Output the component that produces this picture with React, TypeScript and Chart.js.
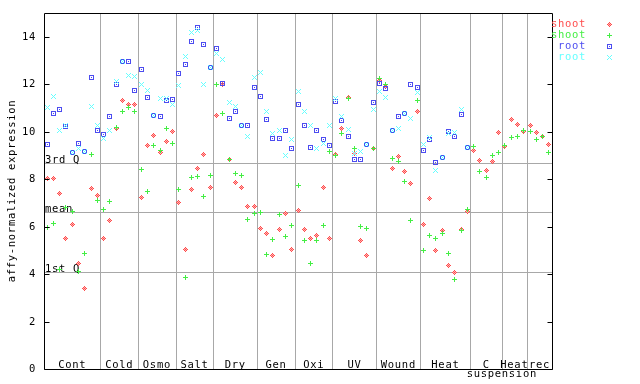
import React, { useEffect, useRef } from 'react';
import { Chart, registerables } from 'chart.js';

Chart.register(...registerables);

// ---- data ----
const categoryNames = ['Cont', 'Cold', 'Osmo', 'Salt', 'Dry', 'Gen', 'Oxi', 'UV', 'Wound', 'Heat', 'C\nsuspension', 'Heat', 'rec'];
const categorySizes = [9, 6, 6, 6, 7, 6, 6, 7, 7, 8, 5, 4, 4];

const shootRed: (number | null)[] = [
  8.04, 8.04, 7.41, 5.51, 6.10, 4.46, 3.40, 7.62, 7.30,
  5.51, 6.27, 10.15, 11.30, 11.13, 11.13,
  7.24, 9.41, 9.85, 9.12, 9.60, 10.02,
  7.03, 5.05, 7.58, 8.46, 9.05, 7.66,
  10.70, 11.97, 8.82, 7.87, 7.66, 6.86, 6.86,
  5.93, 5.72, 4.80, 5.89, 6.57, 5.05,
  6.69, 5.89, 5.51, 5.64, 7.66, 5.51,
  9.05, 10.15, 11.42, 9.10, 5.43, 4.80, 9.31,
  12.16, 11.91, 8.46, 8.95, 8.34, 7.83, 10.87,
  6.10, 7.20, 5.01, 5.85, 4.37, 4.08, 5.89, 6.65,
  9.22, 8.80, 8.38, 8.76, 9.98,
  9.39, 10.53, 10.32, 10.02,
  10.28, 9.98, 9.81, 9.48,
];

const shootGreen: (number | null)[] = [
  5.98, 6.12, 4.20, 6.82, 6.62, 4.10, 4.85, 9.05, 7.11,
  6.71, 7.07, 10.16, 10.87, 11.00, 10.83,
  8.42, 7.49, 9.43, 9.21, 10.12, 9.52,
  7.58, 3.87, 8.08, 8.13, 7.28, 8.17,
  11.97, 10.78, 8.84, 8.25, 8.17, 6.31, 6.57,
  6.61, 4.84, 5.47, 6.52, 5.60, 6.03,
  7.72, 5.43, 4.46, 5.43, 6.03, 9.18,
  9.01, 9.94, 11.38, 9.31, 6.02, 5.93, 9.31,
  12.26, 12.00, 8.88, 8.76, 7.92, 6.27, 11.33,
  5.01, 5.64, 5.51, 5.72, 4.88, 3.78, 5.85, 6.74,
  9.39, 8.34, 8.08, 8.98, 9.14,
  9.43, 9.77, 9.81, 10.07,
  10.02, 9.65, 9.81, 9.14,
];

const rootBlue: (number | null)[] = [
  9.48, 10.78, 10.95, 10.22, 9.14, 9.52, 9.17, 12.30, 10.07,
  9.90, 10.66, 11.97, 12.95, 12.94, 11.75,
  12.64, 11.46, 10.68, 10.66, 11.30, 11.35,
  12.47, 12.81, 13.78, 14.41, 13.69, 12.71,
  13.52, 12.05, 10.57, 10.87, 10.28, 10.28, 11.88,
  11.50, 10.53, 9.73, 9.73, 10.07, 9.27,
  11.16, 10.24, 9.35, 10.07, 9.69, 9.43,
  11.29, 10.49, 9.81, 8.84, 8.84, 9.48, 11.25,
  12.05, 11.80, 10.07, 10.66, 10.78, 11.97, 11.84,
  9.22, 9.65, 8.72, 8.93, 10.02, 9.81, 10.74, 9.35,
  null, null, null, null, null,
  null, null, null, null,
  null, null, null, null,
];

const rootCyan: (number | null)[] = [
  11.00, 11.50, 10.07, 10.25, 9.14, 9.31, 9.17, 11.04, 10.25,
  9.73, 10.07, 12.12, 12.95, 12.36, 12.32,
  11.99, 11.73, 10.68, 11.40, 11.40, 11.16,
  11.94, 13.15, 14.16, 14.27, 11.97, 12.71,
  13.31, 13.06, 11.25, 11.08, 10.28, 9.81, 12.30,
  12.51, 10.87, 9.94, 10.07, 9.01, 9.65,
  11.71, 10.87, 10.28, 9.27, 9.52, 10.28,
  11.38, 10.62, 10.11, 9.10, 9.18, 9.48, 10.95,
  11.71, 11.46, 10.07, 10.15, 10.78, 10.57, 11.67,
  9.48, 9.77, 8.38, 8.93, 9.94, 9.98, 10.95, 9.35,
  null, null, null, null, null,
  null, null, null, null,
  null, null, null, null,
];

const yTicks = [0, 2, 4, 6, 8, 10, 12, 14];
const quartileNames = ['3rd Q', 'mean', '1st Q'];
const quartileValues = [8.68, 6.62, 4.08];
const legendLabels = ['shoot', 'shoot', 'root', 'root'];
const yTitle = 'affy-normalized expression';

// ---- styles ----
const RED = '#ff4c4c';
const GREEN = '#44ee44';
const BLUE = '#4c4cf0';
const CYAN = '#66ffff';
const GRID = '#a8a8a8';
const FONT = '10.5px "DejaVu Sans Mono", monospace';

function makeMarker(kind: string, color: string): HTMLCanvasElement {
  const h = 2;
  const s = h * 2 + 1;
  const c = document.createElement('canvas');
  c.width = s;
  c.height = s;
  const g = c.getContext('2d')!;
  for (let dy = -h; dy <= h; dy++) {
    for (let dx = -h; dx <= h; dx++) {
      const ax = Math.abs(dx), ay = Math.abs(dy);
      let col: string | null = null;
      if (kind === 'diamond') {
        const d = ax + ay;
        if (d === 2 || d === 0) col = color;
        else if (d === 1) col = '#ffb4b4';
      } else if (kind === 'plus') {
        if ((dx === 0 && ay <= h) || (dy === 0 && ax <= h)) col = color;
      } else if (kind === 'square') {
        if (Math.max(ax, ay) === h || (dx === 0 && dy === 0)) col = color;
      } else if (kind === 'x') {
        if (ax === ay) col = color;
      }
      if (col) {
        g.fillStyle = col;
        g.fillRect(dx + h, dy + h, 1, 1);
      }
    }
  }
  return c;
}

function toPoints(vals: (number | null)[]) {
  const out: { x: number; y: number }[] = [];
  vals.forEach((v, i) => {
    if (v !== null && v !== undefined) out.push({ x: i + 0.5, y: v });
  });
  return out;
}

export default function App() {
  const ref = useRef<HTMLCanvasElement | null>(null);

  useEffect(() => {
    if (!ref.current) return;
    const markers = {
      diamond: makeMarker('diamond', RED),
      plus: makeMarker('plus', GREEN),
      square: makeMarker('square', BLUE),
      x: makeMarker('x', CYAN),
    };
    const legendMarkers = [markers.diamond, markers.plus, markers.square, markers.x];
    const legendColors = [RED, GREEN, BLUE, CYAN];
    const total = categorySizes.reduce((a, b) => a + b, 0);

    const decor = {
      id: 'decor',
      beforeDatasetsDraw(chart: any) {
        const { ctx, chartArea } = chart;
        const { left, right, top, bottom } = chartArea;
        const xs = chart.scales.x;
        const ys = chart.scales.y;
        ctx.save();
        ctx.strokeStyle = GRID;
        ctx.lineWidth = 1;
        ctx.beginPath();
        let acc = 0;
        categorySizes.forEach((n, k) => {
          acc += n;
          if (k < categorySizes.length - 1) {
            const px = Math.round(xs.getPixelForValue(acc)) + 0.5;
            ctx.moveTo(px, top);
            ctx.lineTo(px, bottom);
          }
        });
        quartileValues.forEach((v) => {
          const py = Math.round(ys.getPixelForValue(v)) + 0.5;
          ctx.moveTo(left, py);
          ctx.lineTo(right, py);
        });
        ctx.stroke();

        ctx.fillStyle = '#000';
        ctx.font = FONT;
        (ctx as any).letterSpacing = '0.7px';
        ctx.textAlign = 'left';
        ctx.textBaseline = 'alphabetic';
        quartileNames.forEach((t, k) => {
          const py = Math.round(ys.getPixelForValue(quartileValues[k]));
          ctx.fillText(t, left + 1, py);
        });
        ctx.restore();
        ctx.imageSmoothingEnabled = false;
      },
      afterDatasetsDraw(chart: any) {
        const { ctx, chartArea } = chart;
        const { left, right, top, bottom } = chartArea;
        const xs = chart.scales.x;
        const ys = chart.scales.y;
        ctx.save();
        ctx.imageSmoothingEnabled = false;
        // frame
        ctx.strokeStyle = '#000';
        ctx.lineWidth = 1;
        ctx.beginPath();
        const L = Math.round(left) + 0.5;
        const R = Math.round(right) + 0.5;
        const T = Math.round(top) + 0.5;
        const B = Math.round(bottom) + 0.5;
        ctx.moveTo(L, T); ctx.lineTo(R, T);
        ctx.moveTo(L, B); ctx.lineTo(R, B);
        ctx.moveTo(L, T); ctx.lineTo(L, B);
        ctx.moveTo(R, T); ctx.lineTo(R, B);
        // ticks
        yTicks.forEach((v) => {
          const py = Math.round(ys.getPixelForValue(v)) + 0.5;
          ctx.moveTo(L, py); ctx.lineTo(L + 5, py);
          ctx.moveTo(R - 5, py); ctx.lineTo(R, py);
        });
        ctx.stroke();

        ctx.fillStyle = '#000';
        ctx.font = FONT;
        (ctx as any).letterSpacing = '0.7px';
        // tick labels
        ctx.textAlign = 'right';
        ctx.textBaseline = 'middle';
        yTicks.forEach((v) => {
          const py = Math.round(ys.getPixelForValue(v));
          ctx.fillText(String(v), left - 8, py + 0.5);
        });
        // category labels
        ctx.textAlign = 'center';
        ctx.textBaseline = 'alphabetic';
        let acc = 0;
        categoryNames.forEach((name, k) => {
          const start = acc;
          acc += categorySizes[k];
          const lines = name.split('\n');
          const cx = xs.getPixelForValue((start + acc) / 2);
          ctx.fillText(lines[0], cx, bottom - 1);
          if (lines[1]) {
            const ex = xs.getPixelForValue(acc);
            ctx.fillText(lines[1], ex, bottom + 8);
          }
        });
        // y title
        ctx.save();
        ctx.translate(12, (top + bottom) / 2);
        ctx.rotate(-Math.PI / 2);
        ctx.textAlign = 'center';
        ctx.textBaseline = 'middle';
        ctx.fillText(yTitle, 0, 0);
        ctx.restore();
        // legend
        ctx.textAlign = 'right';
        ctx.textBaseline = 'middle';
        legendLabels.forEach((t, k) => {
          const ly = top + 11 + k * 11;
          ctx.fillStyle = legendColors[k];
          ctx.fillText(t, right + 34, ly);
          const m = legendMarkers[k];
          ctx.drawImage(m, right + 57 - (m.width - 1) / 2, ly - (m.height - 1) / 2);
        });
        ctx.restore();
      },
    };

    const chart = new Chart(ref.current, {
      type: 'scatter',
      data: {
        datasets: [
          { label: 'shoot', data: toPoints(shootRed), pointStyle: markers.diamond as any, order: 4 },
          { label: 'shoot', data: toPoints(shootGreen), pointStyle: markers.plus as any, order: 3 },
          { label: 'root', data: toPoints(rootBlue), pointStyle: markers.square as any, order: 2 },
          { label: 'root', data: toPoints(rootCyan), pointStyle: markers.x as any, order: 1 },
        ],
      },
      options: {
        responsive: false,
        animation: false,
        events: [],
        layout: { padding: { left: 44, top: 13, right: 88, bottom: 15 } },
        scales: {
          x: { type: 'linear', min: 0, max: total, display: false },
          y: { type: 'linear', min: 0, max: 15, display: false },
        },
        plugins: {
          legend: { display: false },
          tooltip: { enabled: false },
        },
      },
      plugins: [decor],
    });
    return () => chart.destroy();
  }, []);

  return (
    <div style={{ position: 'fixed', left: 0, top: 0, width: 640, height: 384, background: '#fff' }}>
      <canvas ref={ref} width={640} height={384} style={{ display: 'block' }} />
    </div>
  );
}
